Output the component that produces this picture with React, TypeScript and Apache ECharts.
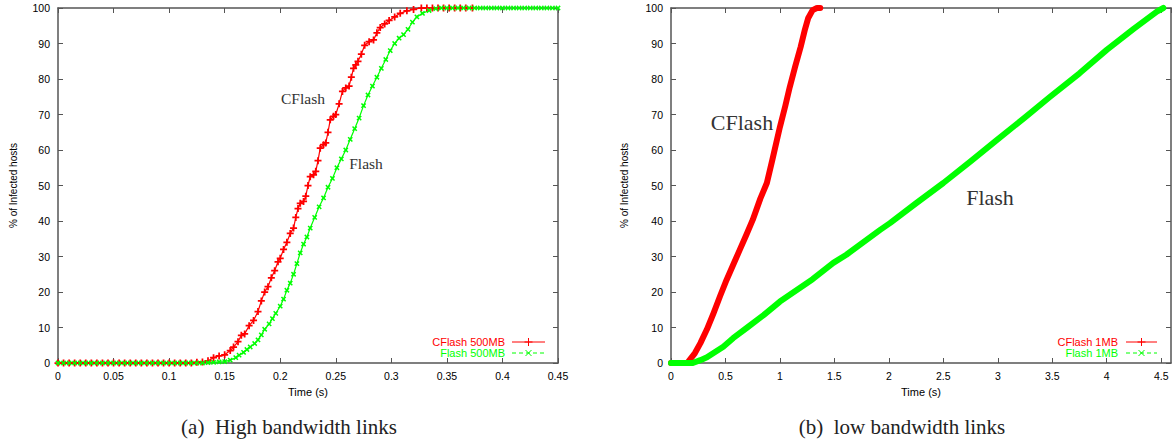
import React, { useEffect, useRef } from "react";
import * as echarts from "echarts";

// ---- Data ----
// (a) High bandwidth links: time (s) vs % of infected hosts
const highCFlash: [number, number][] = [
  [0, 0], [0.005, 0], [0.01, 0], [0.015, 0], [0.02, 0], [0.025, 0], [0.03, 0], [0.035, 0],
  [0.04, 0], [0.045, 0], [0.05, 0], [0.055, 0], [0.06, 0], [0.065, 0], [0.07, 0], [0.075, 0],
  [0.08, 0], [0.085, 0], [0.09, 0], [0.095, 0], [0.1, 0], [0.105, 0], [0.11, 0], [0.115, 0],
  [0.12, 0], [0.125, 0.2], [0.13, 0.3], [0.135, 0.6],
  [0.14, 1.5], [0.145, 2.0], [0.15, 2.3], [0.155, 3.5], [0.158, 4.5], [0.162, 6],
  [0.165, 7.8], [0.168, 8.2], [0.172, 10.5], [0.176, 12], [0.18, 14.5], [0.183, 17.5],
  [0.186, 20], [0.189, 21.5], [0.192, 24], [0.195, 26], [0.198, 28.5], [0.2, 29.5],
  [0.203, 32], [0.206, 34], [0.209, 36.5], [0.212, 38], [0.214, 41], [0.216, 43.5],
  [0.218, 45], [0.221, 45.5], [0.223, 47], [0.225, 50], [0.227, 52.5], [0.23, 53],
  [0.232, 54], [0.234, 57], [0.236, 60.5], [0.239, 61.5], [0.241, 62], [0.243, 65],
  [0.245, 68.5], [0.248, 69.5], [0.25, 70], [0.253, 73], [0.256, 76.5], [0.259, 77.5],
  [0.262, 78], [0.264, 80.5], [0.266, 83], [0.268, 84], [0.27, 85], [0.273, 87],
  [0.276, 89.5], [0.28, 90.5], [0.284, 91], [0.287, 93], [0.29, 94.5], [0.294, 95.5],
  [0.298, 96.5], [0.303, 97.5], [0.308, 98.5], [0.314, 99.2], [0.32, 99.6], [0.327, 100],
  [0.332, 100], [0.337, 100], [0.342, 100], [0.347, 100], [0.352, 100], [0.357, 100],
  [0.362, 100], [0.367, 100], [0.373, 100],
];

const highFlash: [number, number][] = [
  [0, 0], [0.005, 0], [0.01, 0], [0.015, 0], [0.02, 0], [0.025, 0], [0.03, 0], [0.035, 0],
  [0.04, 0], [0.045, 0], [0.05, 0], [0.055, 0], [0.06, 0], [0.065, 0], [0.07, 0], [0.075, 0],
  [0.08, 0], [0.085, 0], [0.09, 0], [0.095, 0], [0.1, 0], [0.105, 0], [0.11, 0], [0.115, 0],
  [0.12, 0], [0.125, 0], [0.13, 0], [0.135, 0.1], [0.14, 0.2], [0.145, 0.3], [0.15, 0.4],
  [0.155, 0.8], [0.16, 1.5], [0.163, 2.2], [0.167, 3], [0.17, 3.8], [0.173, 4.5],
  [0.177, 5.5], [0.18, 6.5], [0.183, 7.9], [0.186, 9.5], [0.19, 11], [0.193, 12.5],
  [0.196, 14], [0.2, 16], [0.203, 18], [0.206, 20.5], [0.209, 22.5], [0.212, 25],
  [0.215, 28], [0.218, 31], [0.221, 33.5], [0.224, 35.5], [0.227, 38], [0.231, 41],
  [0.235, 44], [0.239, 46.5], [0.243, 49.5], [0.247, 52], [0.251, 55], [0.255, 57.5],
  [0.259, 60], [0.263, 63], [0.267, 66], [0.271, 69], [0.275, 72.5], [0.279, 75.5],
  [0.283, 78], [0.287, 80.5], [0.291, 83], [0.295, 85.5], [0.299, 88], [0.303, 90],
  [0.307, 91.5], [0.311, 92.5], [0.315, 94], [0.319, 96], [0.323, 97.5], [0.328, 98.5],
  [0.334, 99.3], [0.34, 99.8], [0.345, 100], [0.35, 100], [0.355, 100], [0.36, 100],
  [0.365, 100], [0.37, 100], [0.375, 100], [0.38, 100], [0.385, 100], [0.39, 100],
  [0.395, 100], [0.4, 100], [0.405, 100], [0.41, 100], [0.415, 100], [0.42, 100],
  [0.425, 100], [0.43, 100], [0.435, 100], [0.44, 100], [0.445, 100], [0.45, 100],
];

// (b) low bandwidth links
const lowCFlash: [number, number][] = [
  [0, 0], [0.08, 0], [0.15, 0], [0.17, 0.8], [0.22, 2.8], [0.27, 5.6], [0.33, 9.5],
  [0.39, 14], [0.45, 18.8], [0.51, 23.4], [0.57, 27.6], [0.63, 31.8], [0.69, 36],
  [0.75, 40.3], [0.82, 46.3], [0.88, 50.7], [0.93, 57.2], [1.0, 66.5], [1.05, 72.5],
  [1.09, 77.7], [1.14, 83.5], [1.19, 89], [1.23, 94], [1.26, 97.2], [1.3, 99.4],
  [1.34, 100], [1.37, 100],
];

const lowFlash: [number, number][] = [
  [0, 0], [0.1, 0], [0.2, 0], [0.27, 0.8], [0.33, 1.6], [0.48, 4.6], [0.57, 7.0],
  [0.7, 10], [0.85, 13.5], [1.0, 17.3], [1.3, 23.6], [1.49, 28.2], [1.61, 30.5],
  [1.92, 37.5], [2.01, 39.4], [2.25, 45], [2.5, 50.7], [2.75, 56.8], [2.99, 62.8],
  [3.25, 69.2], [3.48, 75], [3.75, 81.6], [4.0, 88.2], [4.25, 94.2], [4.46, 99], [4.52, 100],
];

const seriesNames = ["CFlash 500MB", "Flash 500MB", "CFlash 1MB", "Flash 1MB"];
const captions = ["(a)  High bandwidth links", "(b)  low bandwidth links"];
const yAxisTitle = "% of Infected hosts";
const xAxisTitle = "Time (s)";

const RED = "#ff0000";
const GREEN = "#00ff00";
const AXIS = "#555555";
const SANS = "'Liberation Sans', Arial, Helvetica, sans-serif";
const SERIF = "'Liberation Serif', 'Times New Roman', serif";

const PLUS = "path://M3,0H5V3H8V5H5V8H3V5H0V3H3Z";

function xAxisPair(gridIndex: number, max: number, interval: number) {
  const common = {
    gridIndex,
    type: "value",
    min: 0,
    max,
    interval,
    axisLine: { show: true, onZero: false, lineStyle: { color: AXIS, width: 1.5 } },
    axisTick: { show: true, inside: true, length: 5, lineStyle: { color: AXIS, width: 1 } },
    splitLine: { show: false },
  };
  return [
    {
      ...common,
      position: "bottom",
      name: xAxisTitle,
      nameLocation: "middle",
      nameGap: 23,
      nameTextStyle: { fontFamily: SANS, fontSize: 11, color: "#000" },
      axisLabel: {
        show: true,
        margin: 7,
        fontFamily: SANS,
        fontSize: 10.5,
        color: "#000",
        showMaxLabel: gridIndex === 0 ? true : false,
      },
    },
    { ...common, position: "top", axisLabel: { show: false } },
  ];
}

function yAxisPair(gridIndex: number, nameGap: number) {
  const common = {
    gridIndex,
    type: "value",
    min: 0,
    max: 100,
    interval: 10,
    axisLine: { show: true, onZero: false, lineStyle: { color: AXIS, width: 1.5 } },
    axisTick: { show: true, inside: true, length: 5, lineStyle: { color: AXIS, width: 1 } },
    splitLine: { show: false },
  };
  return [
    {
      ...common,
      position: "left",
      name: yAxisTitle,
      nameLocation: "middle",
      nameGap,
      nameRotate: 90,
      nameTextStyle: { fontFamily: SANS, fontSize: 10, color: "#000" },
      axisLabel: { show: true, margin: 8, fontFamily: SANS, fontSize: 10.5, color: "#000" },
    },
    { ...common, position: "right", axisLabel: { show: false } },
  ];
}

function legendItem(
  textRight: number,
  y: number,
  x1: number,
  x2: number,
  label: string,
  color: string,
  dashed: boolean,
  cross: boolean
) {
  const cx = (x1 + x2) / 2;
  const els: any[] = [
    {
      type: "text",
      x: textRight,
      y,
      style: {
        text: label,
        fill: color,
        font: `11px ${SANS}`,
        align: "right",
        verticalAlign: "middle",
      },
    },
    {
      type: "line",
      shape: { x1, y1: y, x2, y2: y },
      style: { stroke: color, lineWidth: 1, lineDash: dashed ? [4, 3] : null },
    },
  ];
  if (cross) {
    els.push(
      { type: "line", shape: { x1: cx - 3, y1: y - 3, x2: cx + 3, y2: y + 3 }, style: { stroke: color, lineWidth: 1 } },
      { type: "line", shape: { x1: cx - 3, y1: y + 3, x2: cx + 3, y2: y - 3 }, style: { stroke: color, lineWidth: 1 } }
    );
  } else {
    els.push(
      { type: "line", shape: { x1: cx, y1: y - 4, x2: cx, y2: y + 4 }, style: { stroke: color, lineWidth: 1 } },
      { type: "line", shape: { x1: cx - 4, y1: y, x2: cx + 4, y2: y }, style: { stroke: color, lineWidth: 1 } }
    );
  }
  return els;
}

function annotation(x: number, y: number, text: string, size: number) {
  return {
    type: "text",
    x,
    y,
    style: {
      text,
      fill: "#333",
      font: `${size}px ${SERIF}`,
      align: "center",
      verticalAlign: "middle",
    },
  };
}

export default function App() {
  const ref = useRef<HTMLDivElement>(null);

  useEffect(() => {
    if (!ref.current) return;
    const chart = echarts.init(ref.current, undefined, { renderer: "svg" });

    const option: any = {
      animation: false,
      backgroundColor: "#ffffff",
      grid: [
        { left: 58, top: 8, width: 500, height: 355 },
        { left: 671, top: 8, width: 500, height: 355 },
      ],
      xAxis: [...xAxisPair(0, 0.45, 0.05), ...xAxisPair(1, 4.59, 0.5)],
      yAxis: [...yAxisPair(0, 40), ...yAxisPair(1, 42)],
      series: [
        {
          type: "line",
          name: seriesNames[0],
          xAxisIndex: 0,
          yAxisIndex: 0,
          data: highCFlash,
          symbol: PLUS,
          symbolSize: 7,
          clip: false,
          lineStyle: { color: RED, width: 1.2 },
          itemStyle: { color: RED, borderWidth: 0 },
          emphasis: { disabled: true },
        },
        {
          type: "line",
          name: seriesNames[1],
          xAxisIndex: 0,
          yAxisIndex: 0,
          data: highFlash,
          symbol: PLUS,
          symbolRotate: 45,
          symbolSize: 6,
          clip: false,
          lineStyle: { color: GREEN, width: 1.2 },
          itemStyle: { color: GREEN, borderWidth: 0 },
          emphasis: { disabled: true },
        },
        {
          type: "line",
          name: seriesNames[2],
          xAxisIndex: 2,
          yAxisIndex: 2,
          data: lowCFlash,
          symbol: "none",
          clip: false,
          lineStyle: { color: RED, width: 6, cap: "round", join: "round" },
          itemStyle: { color: RED },
          emphasis: { disabled: true },
        },
        {
          type: "line",
          name: seriesNames[3],
          xAxisIndex: 2,
          yAxisIndex: 2,
          data: lowFlash,
          symbol: "none",
          clip: false,
          lineStyle: { color: GREEN, width: 6, cap: "round", join: "round" },
          itemStyle: { color: GREEN },
          emphasis: { disabled: true },
        },
      ],
      graphic: [
        annotation(303, 98, "CFlash", 15.5),
        annotation(366, 163, "Flash", 15.5),
        annotation(742, 122, "CFlash", 22),
        annotation(990, 197, "Flash", 22),
        ...legendItem(505, 342, 512, 545, seriesNames[0], RED, false, false),
        ...legendItem(505, 353, 512, 545, seriesNames[1], GREEN, true, true),
        ...legendItem(1118, 342, 1126, 1157, seriesNames[2], RED, false, false),
        ...legendItem(1118, 353, 1126, 1157, seriesNames[3], GREEN, true, true),
        {
          type: "text",
          x: 289,
          y: 427,
          style: { text: captions[0], fill: "#222", font: `21px ${SERIF}`, align: "center", verticalAlign: "middle" },
        },
        {
          type: "text",
          x: 902,
          y: 427,
          style: { text: captions[1], fill: "#222", font: `21px ${SERIF}`, align: "center", verticalAlign: "middle" },
        },
      ],
    };

    chart.setOption(option);
    return () => {
      chart.dispose();
    };
  }, []);

  return (
    <div
      ref={ref}
      style={{ position: "fixed", left: 0, top: 0, width: 1172, height: 444, background: "#fff" }}
    />
  );
}
